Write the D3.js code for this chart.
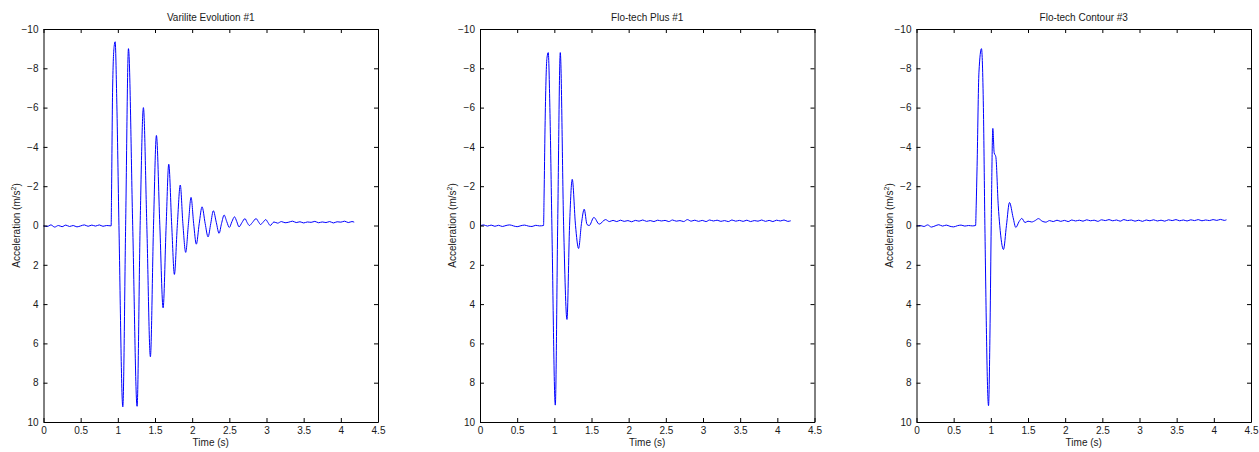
<!DOCTYPE html>
<html>
<head>
<meta charset="utf-8">
<script src="https://cdn.jsdelivr.net/npm/d3@7"></script>
<style>
  body { margin: 0; background: #fff; }
  svg { display: block; }
  text { font-family: "Liberation Sans", Arial, sans-serif; fill: #1a1a1a; }
</style>
</head>
<body>
<div class="content"></div>
<script>
// Panel titles
var titles = ["Varilite Evolution #1", "Flo-tech Plus #1", "Flo-tech Contour #3"];

// Tick values
var xTicks = [0, 0.5, 1, 1.5, 2, 2.5, 3, 3.5, 4, 4.5];
var yTicks = [-10, -8, -6, -4, -2, 0, 2, 4, 6, 8, 10];

// [time (s), acceleration (m/s^2)]
var varilite = [
  [0, 0.02], [0.05, 0.05], [0.1, -0.03], [0.15, 0.08], [0.2, 0.0], [0.25, 0.06],
  [0.3, -0.02], [0.35, 0.05], [0.4, 0.0], [0.45, 0.07], [0.5, 0.02], [0.55, -0.03],
  [0.6, 0.04], [0.65, -0.02], [0.7, 0.03], [0.75, -0.03], [0.8, 0.04], [0.85, 0.0],
  [0.91, 0.02], [0.915, -1.5], [0.93, -7.0], [0.95, -9.1], [0.964, -9.35],
  [0.985, -6.5], [1.015, 0.0], [1.067, 9.23], [1.105, 0.0], [1.143, -9.0],
  [1.2, 0.0], [1.259, 9.2], [1.3, 0.0], [1.344, -6.0], [1.39, 0.0], [1.438, 6.68],
  [1.48, 0.0], [1.519, -4.58], [1.565, 0.0], [1.609, 4.19], [1.65, 0.0],
  [1.685, -3.12], [1.725, 0.0], [1.761, 2.49], [1.8, 0.0], [1.84, -2.06],
  [1.875, -0.1], [1.913, 1.37], [1.95, -0.1], [1.985, -1.43], [2.02, -0.1],
  [2.056, 0.95], [2.095, -0.1], [2.133, -0.95], [2.175, -0.1], [2.214, 0.58],
  [2.25, -0.1], [2.285, -0.75], [2.325, -0.15], [2.362, 0.4], [2.395, -0.1],
  [2.43, -0.53], [2.465, -0.2], [2.5, 0.1], [2.535, -0.2], [2.57, -0.44],
  [2.6, -0.2], [2.63, 0.07], [2.67, -0.15], [2.71, -0.35], [2.74, -0.15],
  [2.77, 0.0], [2.81, -0.15], [2.86, -0.35], [2.89, -0.2], [2.92, -0.05],
  [2.95, -0.15], [2.99, -0.3], [3.02, -0.15], [3.05, 0.0], [3.1, -0.18],
  [3.15, -0.12], [3.2, -0.2], [3.25, -0.14], [3.3, -0.17], [3.35, -0.22],
  [3.4, -0.15], [3.45, -0.19], [3.5, -0.13], [3.55, -0.18], [3.6, -0.16],
  [3.65, -0.21], [3.7, -0.14], [3.75, -0.18], [3.8, -0.15], [3.85, -0.2],
  [3.9, -0.13], [3.95, -0.19], [4.0, -0.17], [4.05, -0.22], [4.1, -0.15],
  [4.15, -0.2], [4.18, -0.17]
];

var flotechPlus = [
  [0, 0.02], [0.05, -0.03], [0.1, 0.03], [0.15, -0.02], [0.2, 0.04], [0.25, -0.01],
  [0.3, 0.05], [0.35, 0.0], [0.4, -0.03], [0.45, 0.02], [0.5, 0.06], [0.55, 0.01],
  [0.6, -0.02], [0.65, 0.03], [0.7, 0.05], [0.75, -0.01], [0.8, 0.02], [0.855, 0.0],
  [0.862, -1.5], [0.875, -5.0], [0.9, -8.5], [0.918, -8.8], [0.94, -6.0],
  [0.967, 0.0], [1.013, 9.14], [1.045, 0.0], [1.08, -8.8], [1.125, 0.0],
  [1.17, 4.78], [1.205, 0.0], [1.241, -2.35], [1.285, 0.0], [1.326, 1.17],
  [1.365, -0.1], [1.402, -0.83], [1.44, -0.05], [1.47, 0.0], [1.532, -0.41],
  [1.604, -0.07], [1.689, -0.3], [1.74, -0.2], [1.79, -0.26], [1.84, -0.2],
  [1.89, -0.27], [1.94, -0.21], [1.99, -0.25], [2.04, -0.19], [2.09, -0.26],
  [2.14, -0.22], [2.19, -0.28], [2.24, -0.21], [2.29, -0.25], [2.34, -0.2],
  [2.39, -0.27], [2.44, -0.23], [2.49, -0.26], [2.54, -0.2], [2.59, -0.28],
  [2.64, -0.22], [2.69, -0.25], [2.74, -0.2], [2.79, -0.3], [2.84, -0.22],
  [2.89, -0.27], [2.94, -0.21], [2.99, -0.26], [3.04, -0.2], [3.09, -0.28],
  [3.14, -0.23], [3.19, -0.27], [3.24, -0.21], [3.29, -0.25], [3.34, -0.2],
  [3.39, -0.28], [3.44, -0.22], [3.49, -0.26], [3.54, -0.21], [3.59, -0.27],
  [3.64, -0.2], [3.69, -0.25], [3.74, -0.22], [3.79, -0.28], [3.84, -0.21],
  [3.89, -0.26], [3.94, -0.2], [3.99, -0.27], [4.04, -0.23], [4.09, -0.28],
  [4.14, -0.21], [4.18, -0.24]
];

var flotechContour = [
  [0, 0.02], [0.05, 0.0], [0.1, 0.05], [0.15, -0.03], [0.2, 0.08], [0.25, 0.02],
  [0.3, -0.04], [0.35, 0.03], [0.4, -0.02], [0.45, 0.04], [0.5, 0.07], [0.55, 0.01],
  [0.6, -0.02], [0.65, 0.03], [0.7, 0.0], [0.75, 0.02], [0.795, 0.0],
  [0.803, -1.0], [0.815, -3.0], [0.84, -7.8], [0.874, -9.0], [0.9, -6.0],
  [0.92, 0.0], [0.969, 9.17], [0.99, 5.0], [1.005, 0.0], [1.027, -4.94],
  [1.045, -3.7], [1.067, -3.5], [1.1, -1.0], [1.12, 0.0], [1.17, 1.22],
  [1.21, 0.0], [1.251, -1.17], [1.3, -0.4], [1.336, 0.1], [1.38, -0.2],
  [1.417, -0.36], [1.46, -0.15], [1.5, -0.22], [1.55, -0.18], [1.6, -0.26],
  [1.64, -0.35], [1.69, -0.22], [1.74, -0.17], [1.79, -0.25], [1.84, -0.2],
  [1.89, -0.27], [1.94, -0.21], [1.99, -0.26], [2.04, -0.2], [2.09, -0.28],
  [2.14, -0.23], [2.19, -0.27], [2.24, -0.22], [2.29, -0.29], [2.34, -0.24],
  [2.39, -0.27], [2.44, -0.21], [2.49, -0.29], [2.54, -0.25], [2.59, -0.3],
  [2.64, -0.24], [2.69, -0.28], [2.74, -0.22], [2.79, -0.3], [2.84, -0.25],
  [2.89, -0.28], [2.94, -0.22], [2.99, -0.27], [3.04, -0.21], [3.09, -0.28],
  [3.14, -0.24], [3.19, -0.29], [3.24, -0.23], [3.29, -0.27], [3.34, -0.22],
  [3.39, -0.29], [3.44, -0.25], [3.49, -0.3], [3.54, -0.24], [3.59, -0.28],
  [3.64, -0.23], [3.69, -0.29], [3.74, -0.25], [3.79, -0.3], [3.84, -0.24],
  [3.89, -0.28], [3.94, -0.25], [3.99, -0.3], [4.04, -0.26], [4.09, -0.31],
  [4.14, -0.26], [4.17, -0.29]
];

var series = [varilite, flotechPlus, flotechContour];

// SVG area
var svgWidth = 1259;
var svgHeight = 452;

// plot box of each panel
var panelLeft = [43.5, 480, 916.5];
var plotWidth = 334.5;
var plotTop = 29;
var plotHeight = 393;

var svg = d3.select(".content")
  .append("svg")
  .attr("width", svgWidth)
  .attr("height", svgHeight);

var xScale = d3.scaleLinear().domain([0, 4.5]).range([0, plotWidth]);
// y axis is reversed: -10 at the top
var yScale = d3.scaleLinear().domain([-10, 10]).range([0, plotHeight]);

var line = d3.line()
  .x(d => xScale(d[0]))
  .y(d => yScale(d[1]))
  .curve(d3.curveMonotoneX);

function styleAxis(g) {
  g.selectAll("path.domain").attr("stroke", "#000").attr("stroke-width", 1);
  g.selectAll(".tick line").attr("stroke", "#000");
  g.selectAll("text")
    .attr("font-family", "Liberation Sans, Arial, sans-serif")
    .attr("font-size", 10)
    .attr("fill", "#1a1a1a");
}

series.forEach(function(data, i) {
  var g = svg.append("g")
    .attr("transform", `translate(${panelLeft[i]}, ${plotTop})`);

  // data line
  g.append("path")
    .datum(data)
    .attr("fill", "none")
    .attr("stroke", "#0000ff")
    .attr("stroke-width", 1)
    .attr("d", line);

  // bottom axis with labels
  g.append("g")
    .attr("transform", `translate(0, ${plotHeight})`)
    .call(d3.axisBottom(xScale).tickValues(xTicks).tickSizeInner(-4).tickSizeOuter(0)
      .tickPadding(5).tickFormat(d3.format("")))
    .call(styleAxis);

  // left axis with labels
  g.append("g")
    .call(d3.axisLeft(yScale).tickValues(yTicks).tickSizeInner(-4).tickSizeOuter(0)
      .tickPadding(5).tickFormat(d3.format("")))
    .call(styleAxis);

  // top and right: ticks only
  g.append("g")
    .call(d3.axisTop(xScale).tickValues(xTicks).tickSizeInner(-4).tickSizeOuter(0)
      .tickFormat(""))
    .call(styleAxis);

  g.append("g")
    .attr("transform", `translate(${plotWidth}, 0)`)
    .call(d3.axisRight(yScale).tickValues(yTicks).tickSizeInner(-4).tickSizeOuter(0)
      .tickFormat(""))
    .call(styleAxis);

  // title
  g.append("text")
    .attr("x", plotWidth / 2)
    .attr("y", -8)
    .attr("text-anchor", "middle")
    .attr("font-size", 10)
    .text(titles[i]);

  // x label
  g.append("text")
    .attr("x", plotWidth / 2)
    .attr("y", plotHeight + 24)
    .attr("text-anchor", "middle")
    .attr("font-size", 10)
    .text("Time (s)");

  // y label with superscript
  var yLabel = g.append("text")
    .attr("transform", `translate(-24, ${plotHeight / 2}) rotate(-90)`)
    .attr("text-anchor", "middle")
    .attr("font-size", 10);
  yLabel.append("tspan").text("Acceleration (m/s");
  yLabel.append("tspan").attr("font-size", 7).attr("dy", -4).text("2");
  yLabel.append("tspan").attr("dy", 4).text(")");
});
</script>
</body>
</html>
